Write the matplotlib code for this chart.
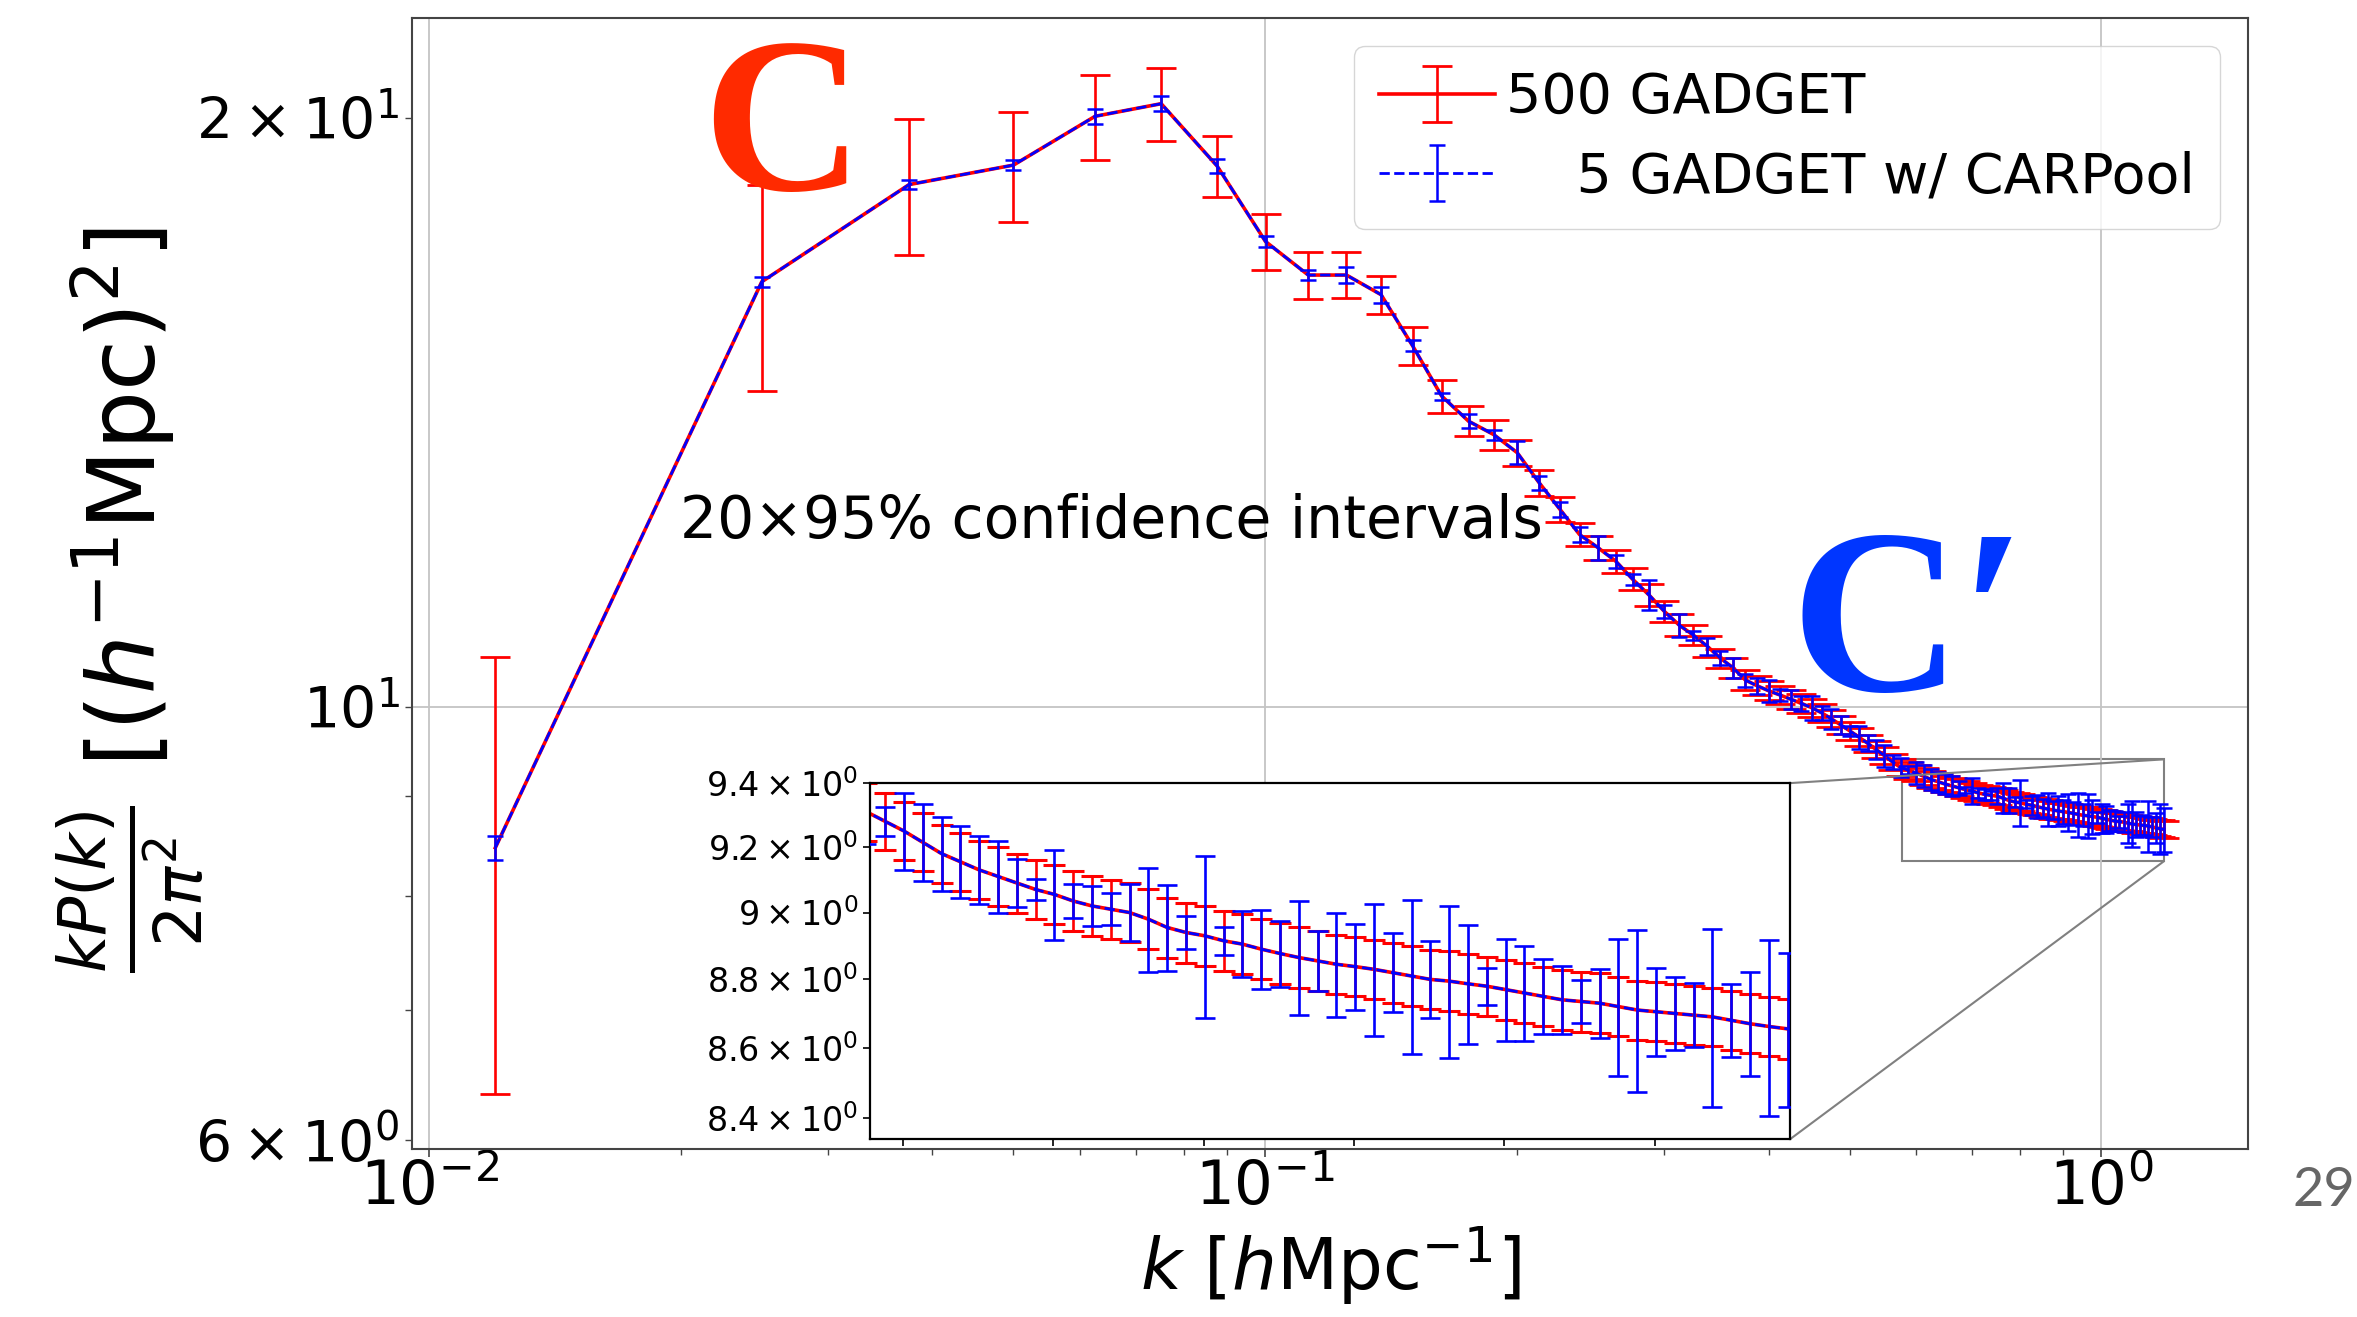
import matplotlib
matplotlib.use("Agg")
import matplotlib.pyplot as plt
from matplotlib.ticker import FixedLocator, NullLocator, NullFormatter
from mpl_toolkits.axes_grid1.inset_locator import mark_inset

# k bins [h/Mpc]
k = [0.0120, 0.0250, 0.0375, 0.0500, 0.0626, 0.0751, 0.0876, 0.1001, 0.1126, 0.1251,
     0.1376, 0.1501, 0.1626, 0.1751, 0.1877, 0.2002, 0.2127, 0.2252, 0.2377, 0.2502,
     0.2627, 0.2752, 0.2877, 0.3002, 0.3128, 0.3253, 0.3378, 0.3503, 0.3628, 0.3753,
     0.3878, 0.4003, 0.4128, 0.4253, 0.4379, 0.4504, 0.4629, 0.4754, 0.4879, 0.5004,
     0.5129, 0.5254, 0.5379, 0.5504, 0.5630, 0.5755, 0.5880, 0.6005, 0.6130, 0.6255,
     0.6380, 0.6505, 0.6630, 0.6755, 0.6881, 0.7006, 0.7131, 0.7256, 0.7381, 0.7506,
     0.7631, 0.7756, 0.7881, 0.8006, 0.8132, 0.8257, 0.8382, 0.8507, 0.8632, 0.8757,
     0.8882, 0.9007, 0.9132, 0.9257, 0.9383, 0.9508, 0.9633, 0.9758, 0.9883, 1.0008,
     1.0133, 1.0258, 1.0383, 1.0508, 1.0634, 1.0759, 1.0884, 1.1009, 1.1134, 1.1259,
     1.1384, 1.1509, 1.1634, 1.1759, 1.1885]

# kP(k)/2pi^2, mean of 500 GADGET sims
pk_gadget = [8.47, 16.50, 18.50, 18.93, 20.05, 20.35, 18.91, 17.30, 16.63, 16.63,
             16.25, 15.30, 14.42, 14.00, 13.78, 13.49, 13.02, 12.62, 12.25, 12.06,
             11.87, 11.62, 11.41, 11.19, 11.01, 10.88, 10.74, 10.59, 10.47, 10.32,
             10.25, 10.19, 10.14, 10.09, 10.04, 9.99, 9.93, 9.86, 9.79, 9.72,
             9.65, 9.58, 9.51, 9.44, 9.37, 9.31, 9.28, 9.25, 9.215, 9.18,
             9.155, 9.13, 9.11, 9.09, 9.07, 9.055, 9.035, 9.02, 9.01, 9.00,
             8.98, 8.955, 8.94, 8.93, 8.915, 8.905, 8.89, 8.877, 8.865, 8.855,
             8.845, 8.838, 8.83, 8.82, 8.81, 8.80, 8.795, 8.787, 8.78, 8.77,
             8.76, 8.75, 8.74, 8.735, 8.73, 8.72, 8.71, 8.705, 8.70, 8.695,
             8.69, 8.68, 8.67, 8.662, 8.655]

# 20x 95% CI half widths
err_gadget = [2.13, 2.00, 1.48, 1.23, 1.00, 0.87, 0.67, 0.57, 0.46, 0.45,
              0.36, 0.35, 0.28, 0.25, 0.24, 0.21, 0.20, 0.19, 0.17, 0.17,
              0.16, 0.15, 0.15, 0.14, 0.14, 0.13, 0.13, 0.12, 0.12, 0.12,
              0.115, 0.115, 0.11, 0.11, 0.11, 0.105, 0.105, 0.10, 0.10, 0.10,
              0.10, 0.095, 0.095, 0.095, 0.09, 0.09, 0.09, 0.09, 0.09, 0.09,
              0.09, 0.09, 0.09, 0.09, 0.09, 0.09, 0.09, 0.09, 0.09, 0.09,
              0.09, 0.09, 0.09, 0.09, 0.09, 0.09, 0.09, 0.09, 0.09, 0.09,
              0.088, 0.088, 0.088, 0.088, 0.088, 0.088, 0.088, 0.088, 0.088, 0.088,
              0.088, 0.088, 0.088, 0.088, 0.088, 0.086, 0.086, 0.086, 0.086, 0.086,
              0.086, 0.086, 0.086, 0.086, 0.086]

# CARPool estimate (5 sims) sits on the GADGET mean
pk_carpool = pk_gadget
err_carpool = [0.12, 0.10, 0.09, 0.12, 0.18, 0.18, 0.15, 0.11, 0.10, 0.16,
               0.15, 0.10, 0.06, 0.12, 0.08, 0.18, 0.11, 0.11, 0.11, 0.17,
               0.09, 0.08, 0.20, 0.09, 0.15, 0.06, 0.11, 0.09, 0.12, 0.08,
               0.10, 0.13, 0.07, 0.11, 0.09, 0.14, 0.08, 0.12, 0.10, 0.06,
               0.13, 0.09, 0.11, 0.12, 0.08, 0.10, 0.046, 0.12, 0.12, 0.115,
               0.11, 0.105, 0.11, 0.072, 0.031, 0.137, 0.051, 0.061, 0.049, 0.086,
               0.157, 0.13, 0.05, 0.244, 0.041, 0.099, 0.119, 0.098, 0.17, 0.09,
               0.155, 0.127, 0.196, 0.117, 0.229, 0.114, 0.225, 0.175, 0.055, 0.151,
               0.139, 0.11, 0.10, 0.063, 0.101, 0.20, 0.237, 0.128, 0.106, 0.093,
               0.26, 0.107, 0.151, 0.256, 0.223]

inset_yticks = [8.4, 8.6, 8.8, 9.0, 9.2, 9.4]
inset_xticks = [0.6, 0.7, 0.8, 0.9, 1.0, 1.1]

fig = plt.figure(figsize=(23.57, 13.17), dpi=100)
ax = fig.add_axes([0.1748, 0.1276, 0.7790, 0.8584])

ax.errorbar(k, pk_gadget, yerr=err_gadget, color='red', lw=2.6, elinewidth=1.9,
            capsize=10.5, capthick=2.0, label='500 GADGET', zorder=2)
ax.errorbar(k, pk_carpool, yerr=err_carpool, color='blue', ls='--', lw=2.0, elinewidth=1.8,
            capsize=5.5, capthick=1.8, label='    5 GADGET w/ CARPool', zorder=3)
ax.set_xscale('log')
ax.set_yscale('log')
ax.set_xlim(0.00954, 1.4986)
ax.set_ylim(5.94, 22.5)
ax.grid(True, which='major', color='#c4c4c4', lw=1.3)

for s in ax.spines.values():
    s.set_color('#444444')
    s.set_linewidth(1.5)
ax.tick_params(axis='x', which='major', labelsize=44, pad=1, length=6, width=1.2, color='#444444')
ax.tick_params(axis='x', which='minor', length=4, width=1.0, color='#444444')
ax.tick_params(axis='y', which='both', labelsize=41, pad=4, length=5, width=1.0, color='#444444')

ax.set_xlabel(r'$k$ $[h\mathrm{Mpc}^{-1}]$', fontsize=51, labelpad=4)
ax.set_ylabel(r'$\frac{kP(k)}{2\pi^2}$ $[(h^{-1}\mathrm{Mpc})^2]$', fontsize=67)
ax.yaxis.set_label_coords(-0.112, 0.485)

ax.legend(loc='upper right', fontsize=40, handlelength=2.1, handletextpad=0.2,
          labelspacing=0.45, borderpad=0.45, framealpha=0.8)

ax.text(0.381, 0.555, '20×95% confidence intervals', transform=ax.transAxes,
        ha='center', va='center', fontsize=42)

# zoomed inset
axins = ax.inset_axes([0.2495, 0.0086, 0.501, 0.315])
axins.errorbar(k, pk_gadget, yerr=err_gadget, color='red', lw=2.6, elinewidth=1.9,
               capsize=8, capthick=2.2, zorder=2)
axins.errorbar(k, pk_carpool, yerr=err_carpool, color='blue', ls='--', lw=2.0, elinewidth=1.9,
               capsize=7, capthick=1.9, zorder=3)
axins.set_yscale('log')
axins.set_xlim(0.578, 1.19)
axins.set_ylim(8.34, 9.40)
axins.xaxis.set_major_locator(FixedLocator(inset_xticks))
axins.xaxis.set_major_formatter(NullFormatter())
axins.yaxis.set_major_locator(NullLocator())
axins.set_yticks(inset_yticks, minor=True)
axins.set_yticklabels([r'$\mathdefault{%g\times10^{0}}$' % v for v in inset_yticks], minor=True)
axins.tick_params(axis='both', which='both', labelsize=24, length=5, width=1.2)
for s in axins.spines.values():
    s.set_color('black')
    s.set_linewidth(1.6)
mark_inset(ax, axins, loc1=1, loc2=4, fc='none', ec='0.5', lw=1.5)

# slide annotations
fig.text(0.2980, 0.8557, 'C', color='#ff2a00', fontsize=160, fontweight='bold',
         family=['Liberation Serif', 'DejaVu Serif'], ha='left', va='baseline')
fig.text(0.7595, 0.4753, 'C′', color='#0036ff', fontsize=170, fontweight='bold',
         family=['Liberation Serif', 'DejaVu Serif'], ha='left', va='baseline')
fig.text(0.9728, 0.0843, '29', color='#666666', fontsize=39, family='Lato',
         ha='left', va='baseline')

fig.savefig('out.png', dpi=100)
